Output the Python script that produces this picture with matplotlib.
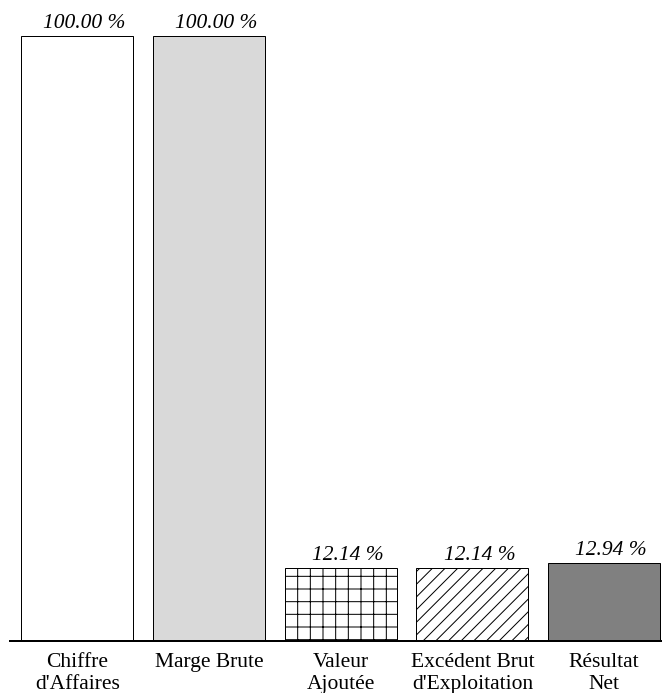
import matplotlib
matplotlib.use("Agg")
import matplotlib.pyplot as plt
from matplotlib.transforms import offset_copy

categories = ["Chiffre\nd'Affaires", "Marge Brute", "Valeur\nAjoutée",
              "Excédent Brut\nd'Exploitation", "Résultat\nNet"]
values = [100.00, 100.00, 12.14, 12.14, 12.94]
colors = ["white", "#d9d9d9", "white", "white", "#808080"]
hatches = [None, None, "+", "//", None]

DPI = 76  # hatch spacing scales with dpi
PT = 72 / DPI  # points per pixel
fs = 21.5 * PT

plt.rcParams["font.family"] = ["Liberation Serif", "DejaVu Serif"]
plt.rcParams["hatch.linewidth"] = 1.0 * PT

fig = plt.figure(figsize=(662 / DPI, 693 / DPI), dpi=DPI)
ax = fig.add_axes([10 / 662, 1 - 641 / 693, 652 / 662, 641 / 693])

x = range(len(values))
bars = ax.bar(x, values, width=0.85, color=colors, edgecolor="black", linewidth=1.0 * PT)
for b, h in zip(bars, hatches):
    if h:
        b.set_hatch(h)

# value labels sit a little right of centre, as in the original
lbl_tr = offset_copy(ax.transData, fig=fig, x=7, y=3, units="dots")
for b, v in zip(bars, values):
    ax.text(b.get_x() + b.get_width() / 2, v, "%.2f %%" % v, transform=lbl_tr,
            ha="center", va="bottom", fontsize=fs, style="italic")

ax.set_xlim(-0.511, 4.44)
ax.set_ylim(0, 106)
ax.set_xticks(list(x))
ax.set_xticklabels(categories, fontsize=fs, linespacing=1.2)
ax.tick_params(axis="x", length=0, pad=12 * PT)
ax.set_yticks([])
for s in ["top", "right", "left"]:
    ax.spines[s].set_visible(False)
ax.spines["bottom"].set_linewidth(2 * PT)

fig.savefig("out.png", dpi=DPI)
